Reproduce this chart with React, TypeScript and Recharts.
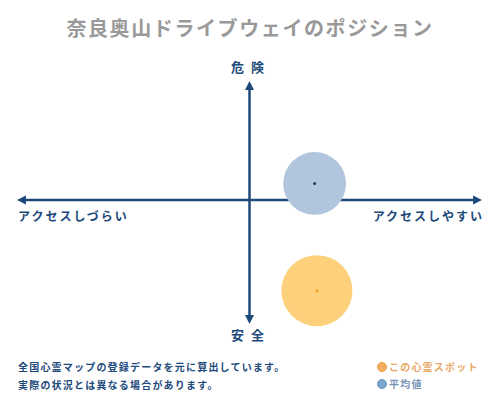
import React from 'react';
import { ScatterChart, Scatter, XAxis, YAxis, ZAxis, ReferenceLine } from 'recharts';

const titleText = '奈良奥山ドライブウェイのポジション';
const topLabel = '危険';
const bottomLabel = '安全';
const leftLabel = 'アクセスしづらい';
const rightLabel = 'アクセスしやすい';
const noteLines = ['全国心霊マップの登録データを元に算出しています。', '実際の状況とは異なる場合があります。'];
const legendNames = ['この心霊スポット', '平均値'];

const averagePoint = [{ x: 28, y: 14, z: 3100 }];
const spotPoint = [{ x: 29, y: -76, z: 3960 }];

const NAVY = '#1d4a7a';
const FONT = '"Noto Sans CJK JP", "Noto Sans", sans-serif';

const makeBubble = (fill: string, dot: string) => (props: any) => {
  const { cx, cy, size } = props;
  const r = Math.sqrt((size || 0) / Math.PI);
  return (
    <g>
      <circle cx={cx} cy={cy} r={r} fill={fill} />
      <circle cx={cx} cy={cy} r={1.5} fill={dot} />
    </g>
  );
};

const VArrow = (props: any) => {
  const { x1, y1, x2, y2 } = props;
  const top = Math.min(y1, y2);
  const bottom = Math.max(y1, y2);
  const x = x1;
  return (
    <g>
      <line x1={x} y1={top + 4} x2={x} y2={bottom - 4} stroke={NAVY} strokeWidth={2.5} />
      <polygon points={`${x},${top} ${x - 4.5},${top + 9} ${x + 4.5},${top + 9}`} fill={NAVY} />
      <polygon points={`${x},${bottom} ${x - 4.5},${bottom - 9} ${x + 4.5},${bottom - 9}`} fill={NAVY} />
    </g>
  );
};

const HArrow = (props: any) => {
  const { x1, y1, x2 } = props;
  const left = Math.min(x1, x2);
  const right = Math.max(x1, x2);
  const y = y1;
  return (
    <g>
      <line x1={left + 4} y1={y} x2={right - 4} y2={y} stroke={NAVY} strokeWidth={2.5} />
      <polygon points={`${left},${y} ${left + 9},${y - 4.5} ${left + 9},${y + 4.5}`} fill={NAVY} />
      <polygon points={`${right},${y} ${right - 9},${y - 4.5} ${right - 9},${y + 4.5}`} fill={NAVY} />
    </g>
  );
};

export default function App() {
  return (
    <div style={{ position: 'absolute', left: 0, top: 0, width: 500, height: 400, background: '#fff', fontFamily: FONT }}>
      <ScatterChart width={500} height={400} margin={{ top: 81, right: 18, bottom: 76, left: 17 }}>
        <XAxis type="number" dataKey="x" domain={[-100, 100]} hide />
        <YAxis type="number" dataKey="y" domain={[-104, 100]} hide />
        <ZAxis type="number" dataKey="z" domain={[0, 4000]} range={[0, 4000]} />
        <Scatter data={averagePoint} isAnimationActive={false} shape={makeBubble('#b1c5dc', '#1d3a5a')} />
        <Scatter data={spotPoint} isAnimationActive={false} shape={makeBubble('#fdd07c', '#f0a020')} />
        <ReferenceLine x={0} shape={VArrow} />
        <ReferenceLine y={0} shape={HArrow} />
      </ScatterChart>
      <svg width={500} height={400} style={{ position: 'absolute', left: 0, top: 0, pointerEvents: 'none' }}>
        <text x={250} y={36} textAnchor="middle" fontSize={20} fontWeight="bold" fill="#999999" letterSpacing={1.6} fontFamily={FONT}>
          {titleText}
        </text>
        <text x={251} y={72} textAnchor="middle" fontSize={13} fontWeight="bold" fill={NAVY} letterSpacing={7} fontFamily={FONT}>
          {topLabel}
        </text>
        <text x={251} y={340} textAnchor="middle" fontSize={13} fontWeight="bold" fill={NAVY} letterSpacing={7} fontFamily={FONT}>
          {bottomLabel}
        </text>
        <text x={18} y={221} textAnchor="start" fontSize={12} fontWeight="bold" fill={NAVY} letterSpacing={2} fontFamily={FONT}>
          {leftLabel}
        </text>
        <text x={484} y={221} textAnchor="end" fontSize={12} fontWeight="bold" fill={NAVY} letterSpacing={2} fontFamily={FONT}>
          {rightLabel}
        </text>
        {noteLines.map((t, i) => (
          <text key={i} x={18} y={371 + i * 18} fontSize={10} fontWeight="bold" fill={NAVY} letterSpacing={1.2} fontFamily={FONT}>
            {t}
          </text>
        ))}
        <circle cx={382} cy={367} r={4.5} fill="#f3b060" stroke="#ee9a40" strokeWidth={1} />
        <text x={389} y={371} fontSize={10} fontWeight="bold" fill="#e8a868" letterSpacing={1.2} fontFamily={FONT}>
          {legendNames[0]}
        </text>
        <circle cx={382} cy={384} r={4.5} fill="#79a6cf" stroke="#6a96c0" strokeWidth={1} />
        <text x={389} y={388} fontSize={10} fontWeight="bold" fill="#7894b8" letterSpacing={1.2} fontFamily={FONT}>
          {legendNames[1]}
        </text>
      </svg>
    </div>
  );
}
